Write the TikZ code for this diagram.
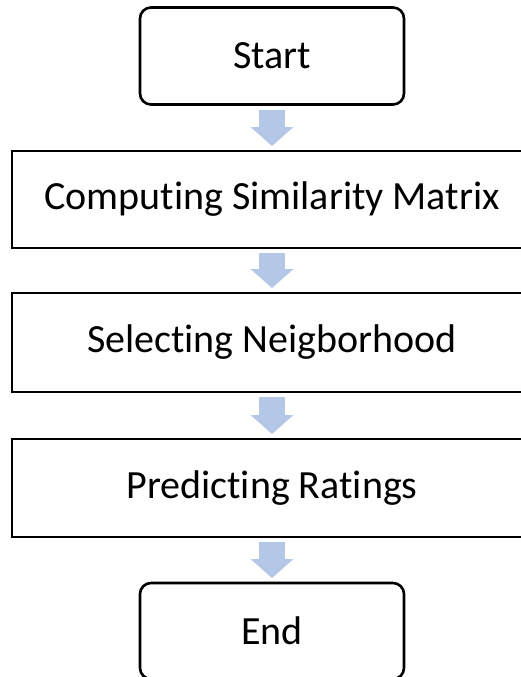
\documentclass[tikz,border=0pt]{standalone}
\usepackage{fontspec}
\setmainfont{Carlito}[Ligatures={NoCommon}]
\usetikzlibrary{arrows.meta,calc}
\definecolor{arrowblue}{HTML}{B4C7E7}
\tikzset{
  stepbox/.style={draw=black, line width=2.6pt, rectangle, inner sep=0pt, outer sep=0pt,
    minimum width=520pt, font=\fontsize{40}{48}\selectfont, text=black},
  termbox/.style={stepbox, rounded corners=11pt, minimum width=264pt},
  flowarrow/.style={draw=arrowblue, line width=26pt, line cap=butt,
    -{Triangle[width=42pt,length=19pt]}, shorten >=5pt, shorten <=5pt}
}
\begin{document}
\begin{tikzpicture}[x=1pt,y=-1pt]
\useasboundingbox (0,0) rectangle (521,677);
\clip (0,0) rectangle (521,677);
\node[termbox, minimum height=97pt] (start) at (272,56) {Start};
\node[stepbox, minimum height=97pt] (sim) at (272,199.5) {Computing Similarity Matrix};
\node[stepbox, minimum height=99pt] (nbr) at (272,342.5) {Selecting Neigborhood};
\node[stepbox, minimum height=98pt] (pred) at (272,488) {Predicting Ratings};
\node[termbox, minimum height=96pt] (end) at (272,631) {End};
\draw[flowarrow] (start.south) -- (sim.north);
\draw[flowarrow] (sim.south) -- (nbr.north);
\draw[flowarrow] (nbr.south) -- (pred.north);
\draw[flowarrow] (pred.south) -- (end.north);
\end{tikzpicture}
\end{document}
